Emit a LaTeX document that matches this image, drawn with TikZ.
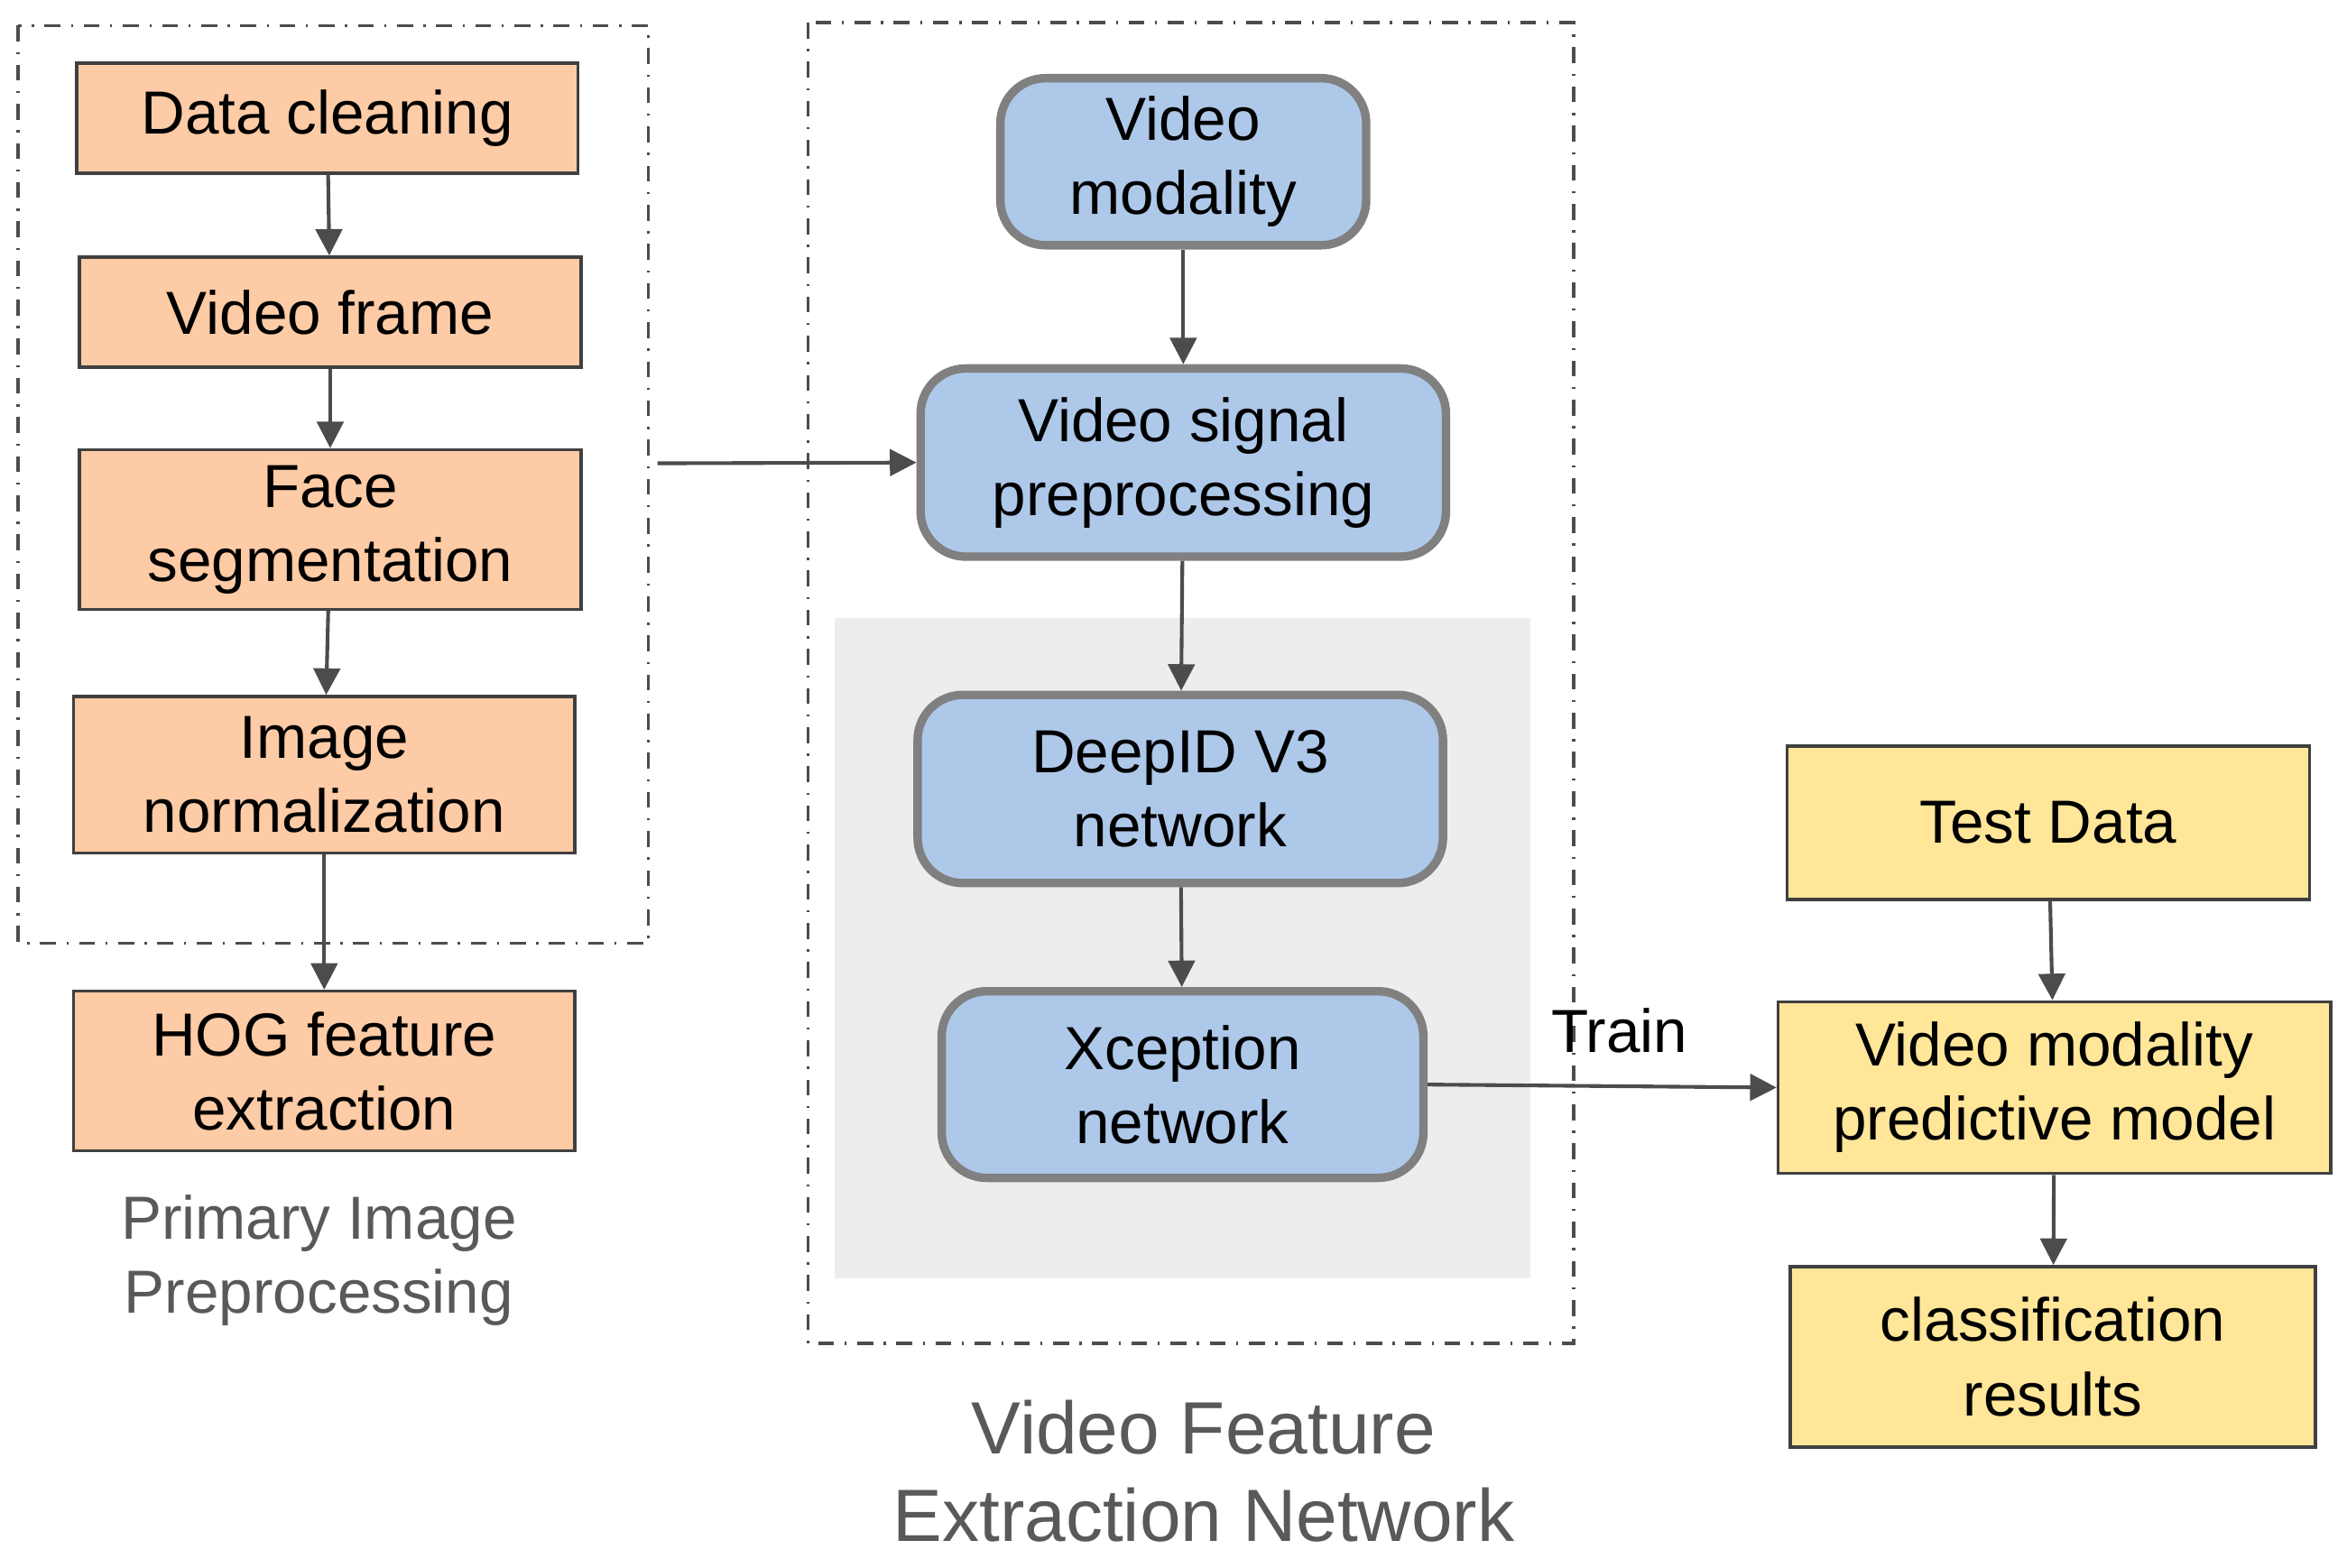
\documentclass[tikz,border=0pt]{standalone}
\usepackage{fontspec}
\setmainfont{Liberation Sans}
\usetikzlibrary{arrows.meta}
\definecolor{peach}{HTML}{FDCBA5}
\definecolor{bluef}{HTML}{AEC8E9}
\definecolor{yel}{HTML}{FFE699}
\definecolor{lab}{HTML}{595959}
\begin{document}
\begin{tikzpicture}[x=0.01cm,y=-0.01cm,
  every node/.style={font=\fontsize{11.5}{14}\selectfont,align=center,inner sep=0pt},
  pbox/.style={draw=black!75,fill=peach,line width=0.6pt},
  bbox/.style={draw=black!50,fill=bluef,line width=1.6pt,rounded corners=0.3cm},
  ybox/.style={draw=black!75,fill=yel,line width=0.6pt},
  arr/.style={-{Triangle[length=5pt,width=5pt]},draw=black!70,line width=0.7pt},
  grp/.style={draw=black!70,dash dot,line width=0.6pt}]
\useasboundingbox (0,0) rectangle (1560,1042);
\draw[grp] (12,17) rectangle (431,627);
\fill[black!7] (555,411) rectangle (1017,850);
\draw[grp] (537,15) rectangle (1046,893);
\node[pbox,minimum width=3.33cm,minimum height=0.73cm] (dc) at (217.5,78.5) {Data cleaning};
\node[pbox,minimum width=3.33cm,minimum height=0.73cm] (vf) at (219.5,207.5) {Video frame};
\node[pbox,minimum width=3.33cm,minimum height=1.06cm] (fs) at (219.5,352) {Face\\segmentation};
\node[pbox,minimum width=3.33cm,minimum height=1.04cm] (in) at (215.5,515) {Image\\normalization};
\node[pbox,minimum width=3.33cm,minimum height=1.06cm] (hog) at (215.5,712) {HOG feature\\extraction};
\node[text=lab] (l1) at (212,838) {Primary Image\\Preprocessing};
\node[bbox,minimum width=2.43cm,minimum height=1.11cm] (vm) at (786.5,107.5) {Video\\modality};
\node[bbox,minimum width=3.49cm,minimum height=1.25cm] (vsp) at (786.5,307.5) {Video signal\\preprocessing};
\node[bbox,minimum width=3.49cm,minimum height=1.25cm] (did) at (784.5,524.5) {DeepID V3\\network};
\node[bbox,minimum width=3.20cm,minimum height=1.24cm] (xc) at (786,721) {Xception\\network};
\node[text=lab,font=\fontsize{14}{16.5}\selectfont] (l2) at (800,978) {Video Feature\\Extraction Network};
\node[ybox,minimum width=3.47cm,minimum height=1.02cm] (td) at (1361.5,547) {Test Data};
\node[ybox,minimum width=3.67cm,minimum height=1.14cm] (pm) at (1365.5,723) {Video modality\\predictive model};
\node[ybox,minimum width=3.49cm,minimum height=1.20cm] (cr) at (1364.5,902) {classification\\results};
\coordinate (lo) at (437,308);
\draw[arr] (dc) -- (vf);
\draw[arr] (vf) -- (fs);
\draw[arr] (fs) -- (in);
\draw[arr] (in) -- (hog);
\draw[arr] (vm) -- (vsp);
\draw[arr] (vsp) -- (did);
\draw[arr] (did) -- (xc);
\draw[arr] (lo) -- (vsp.west);
\draw[arr] (xc.east) -- node[above=6pt,pos=0.55] {Train} (pm.west);
\draw[arr] (td) -- (pm);
\draw[arr] (pm) -- (cr);
\end{tikzpicture}
\end{document}
